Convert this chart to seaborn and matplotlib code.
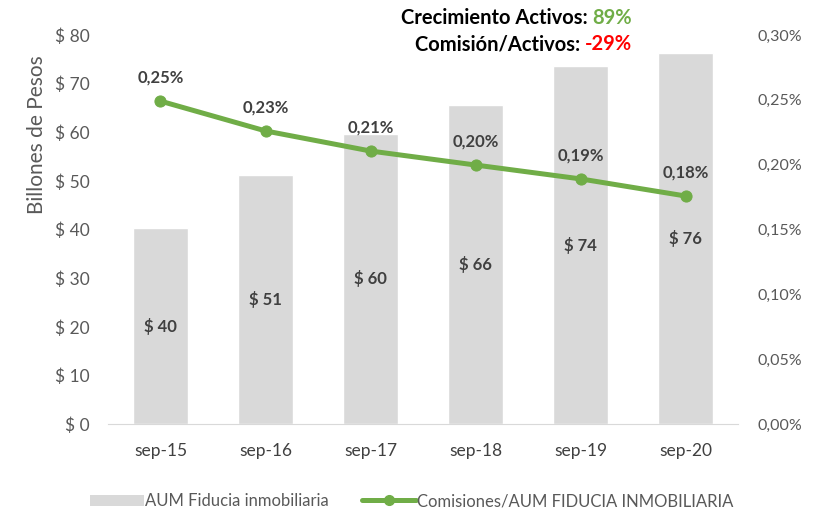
import numpy as np
import pandas as pd
import matplotlib
matplotlib.use('Agg')
import matplotlib.pyplot as plt
import seaborn as sns
from matplotlib.ticker import FuncFormatter, MultipleLocator
from matplotlib.patches import Patch
from matplotlib.lines import Line2D

periods = ['sep-15', 'sep-16', 'sep-17', 'sep-18', 'sep-19', 'sep-20']
aum = [40.3, 51.2, 59.7, 65.6, 73.6, 76.3]           # billones de pesos
comision_pct = [0.249, 0.226, 0.2105, 0.1997, 0.189, 0.1758]  # %
crecimiento_activos = '89%'
comision_activos = '-29%'

df = pd.DataFrame({'periodo': periods, 'aum': aum, 'comision': comision_pct})

BAR_GREY = '#D9D9D9'
GREEN = '#70AD47'
TEXT_GREY = '#595959'
LABEL_DARK = '#404040'

sns.set_style('white')
plt.rcParams['font.family'] = ['Lato', 'DejaVu Sans']

fig = plt.figure(figsize=(8.24, 5.14), dpi=100)
ax = fig.add_axes([0.131, 0.175, 0.765, 0.757])

sns.barplot(data=df, x='periodo', y='aum', color=BAR_GREY, width=0.52,
            saturation=1, ax=ax)
ax.set_ylim(0, 80)
ax.yaxis.set_major_locator(MultipleLocator(10))
ax.yaxis.set_major_formatter(FuncFormatter(lambda v, p: '$ {:.0f}'.format(v)))
ax.set_xlabel('')
ax.set_ylabel('Billones de Pesos', color=TEXT_GREY, fontsize=15)
ax.yaxis.set_label_coords(-0.097, 0.745)
ax.tick_params(axis='y', length=0, labelsize=12.5, colors=TEXT_GREY, pad=13)
ax.tick_params(axis='x', length=0, labelsize=12.5, colors='#404040', pad=14)
for s in ['top', 'right', 'left']:
    ax.spines[s].set_visible(False)
ax.spines['bottom'].set_color('#D9D9D9')

for i, v in enumerate(aum):
    ax.text(i, v / 2, '$ {:.0f}'.format(v), ha='center', va='center',
            fontsize=12, fontweight='bold', color=LABEL_DARK)

ax2 = ax.twinx()
sns.lineplot(data=df, x='periodo', y='comision', color=GREEN, linewidth=3.6,
             marker='o', markersize=8, markeredgecolor=GREEN, ax=ax2)
ax2.set_ylim(0, 0.30)
ax.set_xlim(-0.5, len(periods) - 0.5)
ax2.yaxis.set_major_locator(MultipleLocator(0.05))
ax2.yaxis.set_major_formatter(
    FuncFormatter(lambda v, p: '{:.2f}%'.format(v).replace('.', ',')))
ax2.set_ylabel('')
ax2.tick_params(axis='y', length=0, labelsize=11.5, colors=TEXT_GREY, pad=14)
for s in ['top', 'right', 'left', 'bottom']:
    ax2.spines[s].set_visible(False)

for i, v in enumerate(comision_pct):
    ax2.annotate('{:.2f}%'.format(v).replace('.', ','), (i, v),
                 xytext=(0, 11), textcoords='offset points', ha='center',
                 va='bottom', fontsize=12, fontweight='bold', color=LABEL_DARK)

# top annotations, right-aligned block
renderer = fig.canvas.get_renderer()
x_right = 632 / 824
for y, label, val, col in [(0.965, 'Crecimiento Activos: ', crecimiento_activos, GREEN),
                           (0.914, 'Comisión/Activos: ', comision_activos, 'red')]:
    t = fig.text(x_right, y, val, ha='right', va='center',
                 fontsize=14.5, fontweight='bold', color=col)
    bb = t.get_window_extent(renderer=renderer)
    fig.text(bb.x0 / fig.bbox.width, y, label, ha='right', va='center',
             fontsize=14.5, fontweight='bold', color='black')

handles = [Patch(facecolor=BAR_GREY, edgecolor='none'),
           Line2D([0], [0], color=GREEN, lw=3.6, marker='o', markersize=7)]
fig.legend(handles, ['AUM Fiducia inmobiliaria',
                     'Comisiones/AUM FIDUCIA INMOBILIARIA'],
           loc='lower center', bbox_to_anchor=(0.5, -0.02), ncol=2,
           frameon=False, fontsize=12, handlelength=3.2, handletextpad=0.1,
           columnspacing=2.0, labelcolor=TEXT_GREY)

fig.savefig('out.png', dpi=100)
